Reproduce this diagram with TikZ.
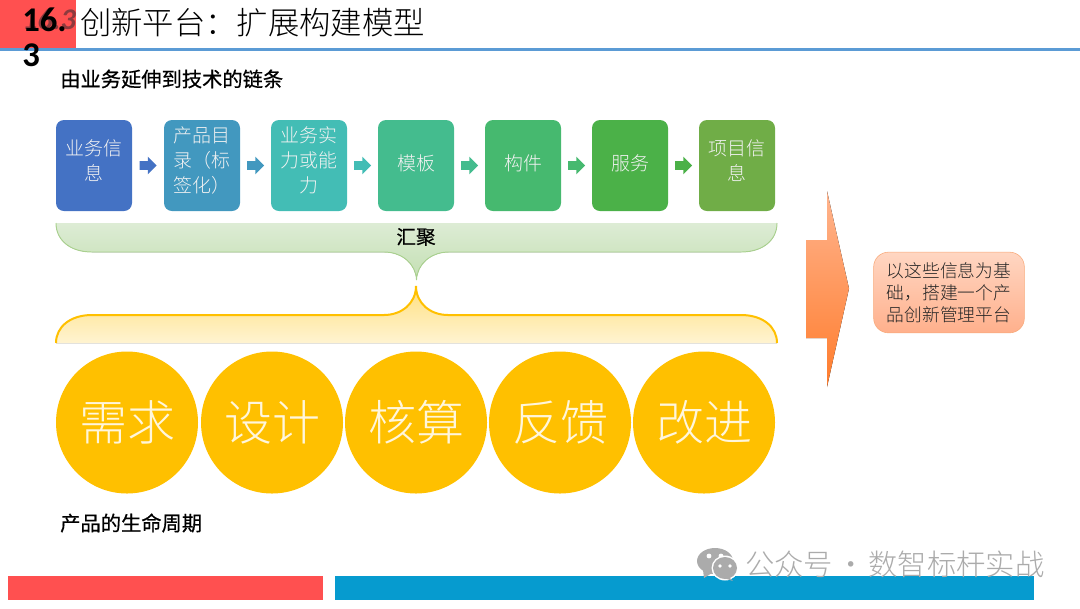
\documentclass[tikz,border=0pt]{standalone}
\usepackage{fontspec}
\setmainfont{Noto Sans CJK SC}
\newfontfamily\numfont{Carlito}
\newfontfamily\thickfont[FakeBold=0.6]{Noto Sans CJK SC}
\newfontfamily\thinfont{Noto Sans CJK SC Light}
\usetikzlibrary{arrows.meta,positioning,calc,shapes.arrows}
\definecolor{headred}{HTML}{FF5050}
\definecolor{headline}{HTML}{5B9BD5}
\definecolor{barblue}{HTML}{069BCF}
\definecolor{stepa}{HTML}{4472C4}
\definecolor{stepb}{HTML}{4298BF}
\definecolor{stepc}{HTML}{43BDB5}
\definecolor{stepd}{HTML}{44BC8E}
\definecolor{stepe}{HTML}{46B96F}
\definecolor{stepf}{HTML}{4BB148}
\definecolor{stepg}{HTML}{70AD47}
\definecolor{sunny}{HTML}{FFC000}
\definecolor{softtext}{HTML}{FFF6DC}
\definecolor{marktext}{HTML}{ABABAB}
\definecolor{greentop}{HTML}{DDECD5}
\definecolor{greenlow}{HTML}{C3DFB2}
\definecolor{greenline}{HTML}{A9D18E}
\definecolor{ghostred}{HTML}{8E3A3E}
\definecolor{peachtop}{HTML}{FFB48E}
\definecolor{peachlow}{HTML}{FF7C2C}
\definecolor{boxtop}{HTML}{FFD6C2}
\definecolor{boxlow}{HTML}{FFB08C}
\definecolor{boxline}{HTML}{F8A878}

\begin{document}
\begin{tikzpicture}[x=0.75pt,y=-0.75pt,
  stepbox/.style={rounded corners=6pt,minimum width=57pt,minimum height=68.25pt,
    align=center,inner sep=0pt,outer sep=0pt,text=white!95!black,text depth=5pt,
    font=\thinfont\fontsize{14.2}{18.75}\selectfont},
  liftbox/.style={stepbox,text depth=8.5pt},
  flowarrow/.style={single arrow,minimum height=12.75pt,inner ysep=3pt,inner xsep=0pt,
    single arrow head extend=3.4pt,single arrow tip angle=90,outer sep=0pt,xshift=-1.5pt},
  stage/.style={circle,fill=sunny,minimum size=106.5pt,inner sep=0pt,outer sep=0pt,
    text=softtext,font=\thinfont\fontsize{36}{40}\selectfont},
  caption/.style={anchor=west,inner sep=0pt,font=\thickfont\fontsize{15.2}{18}\selectfont}]
\useasboundingbox (0,0) rectangle (1080,608);
% header
\fill[headred] (0,0) rectangle (76,48);
\draw[headline,line width=1.6pt] (0,49.5) -- (1080,49.5);
\node[anchor=north west,inner sep=0pt,text=ghostred,font=\numfont\bfseries\itshape\fontsize{22.5}{24}\selectfont]
  (ghostno) at (22,9) {16.3};
\node[anchor=north west,inner sep=0pt,align=left,font=\numfont\bfseries\fontsize{26}{26}\selectfont]
  (secno) at (22,8) {16.\\3};
\node[anchor=west,inner sep=0pt,font=\thinfont\fontsize{23.5}{28}\selectfont] (title) at (80,23)
  {创新平台：扩展构建模型};
\node[caption] (chaintxt) at (60,79) {由业务延伸到技术的链条};
% chain
\node[liftbox,fill=stepa] (biz) at (94,165.5) {业务信\\息};
\node[liftbox,fill=stepb] (catalog) at (202,165.5) {产品目\\录（标\\签化）};
\node[liftbox,fill=stepc] (ability) at (309,165.5) {业务实\\力或能\\力};
\node[stepbox,fill=stepd] (tmpl) at (416,165.5) {模板};
\node[stepbox,fill=stepe] (part) at (523,165.5) {构件};
\node[stepbox,fill=stepf] (service) at (630,165.5) {服务};
\node[liftbox,fill=stepg] (project) at (737,165.5) {项目信\\息};
\path (biz) -- (catalog) node[midway,flowarrow,fill=stepa] (ar1) {};
\path (catalog) -- (ability) node[midway,flowarrow,fill=stepb] (ar2) {};
\path (ability) -- (tmpl) node[midway,flowarrow,fill=stepc] (ar3) {};
\path (tmpl) -- (part) node[midway,flowarrow,fill=stepd] (ar4) {};
\path (part) -- (service) node[midway,flowarrow,fill=stepe] (ar5) {};
\path (service) -- (project) node[midway,flowarrow,fill=stepf] (ar6) {};
% braces
\fill[top color=greentop,bottom color=greenlow]
  (56,223) .. controls (56,240) and (70,252) .. (92,252) -- (384,252)
  .. controls (402,252) and (416,264) .. (416.5,280)
  .. controls (417,264) and (431,252) .. (449,252) -- (741,252)
  .. controls (763,252) and (777,240) .. (777,223) -- cycle;
\draw[greenline,line width=.7pt]
  (56,223) .. controls (56,240) and (70,252) .. (92,252) -- (384,252)
  .. controls (402,252) and (416,264) .. (416.5,280)
  .. controls (417,264) and (431,252) .. (449,252) -- (741,252)
  .. controls (763,252) and (777,240) .. (777,223);
\node[inner sep=0pt,font=\thickfont\fontsize{14.7}{16}\selectfont] (gather) at (416,237) {汇聚};
\fill[top color=sunny!50!white,bottom color=sunny!18!white]
  (56,343) .. controls (56,327) and (70,315) .. (92,315) -- (384,315)
  .. controls (402,315) and (416,303) .. (416,286)
  .. controls (416,303) and (430,315) .. (448,315) -- (741,315)
  .. controls (763,315) and (777,327) .. (777,343) -- cycle;
\draw[sunny,line width=1.5pt]
  (56,343) .. controls (56,327) and (70,315) .. (92,315) -- (384,315)
  .. controls (402,315) and (416,303) .. (416,286)
  .. controls (416,303) and (430,315) .. (448,315) -- (741,315)
  .. controls (763,315) and (777,327) .. (777,343);
% life cycle
\node[stage] (need) at (127,422.5) {需求};
\node[stage] (design) at (272,422.5) {设计};
\node[stage] (cost) at (416,422.5) {核算};
\node[stage] (back) at (560,422.5) {反馈};
\node[stage] (improve) at (704,422.5) {改进};
\node[caption] (lifetxt) at (60,523) {产品的生命周期};
% result
\fill[top color=peachtop,bottom color=peachlow]
  (806,240) -- (827,240) -- (827,191) -- (849,288.5) -- (827,387) -- (827,338) -- (806,338) -- cycle;
\node[rounded corners=11pt,minimum width=113pt,minimum height=60.5pt,inner sep=0pt,
  draw=boxline,top color=boxtop,bottom color=boxlow,align=center,
  text=black!85,font=\thinfont\fontsize{13.3}{16.6}\selectfont] (platform) at (949,292.5)
  {以这些信息为基\\础，搭建一个产\\品创新管理平台};
% bottom bars
\fill[headred] (8,576) rectangle (323,600);
\fill[barblue] (335,576) rectangle (1034,600);
% watermark
\fill[marktext] (715,561) ellipse (18 and 13);
\fill[marktext] (703,570) -- (704,578) -- (712,573) -- cycle;
\fill[white] (709,556) circle (2.4) (721,556) circle (2.4);
\fill[white] (725,568) ellipse (13.5 and 12.5);
\fill[marktext] (725,568) ellipse (12 and 11);
\fill[marktext] (729,577) -- (733,581) -- (724,578) -- cycle;
\fill[white] (720,566) circle (1.9) (730,566) circle (1.9);
\node[anchor=west,inner sep=0pt,text=marktext,font=\thinfont\fontsize{22}{26}\selectfont] (mark) at (745,564)
  {公众号\hspace{2.2pt}·\hspace{2.2pt}数智标杆实战};
\end{tikzpicture}
\end{document}
